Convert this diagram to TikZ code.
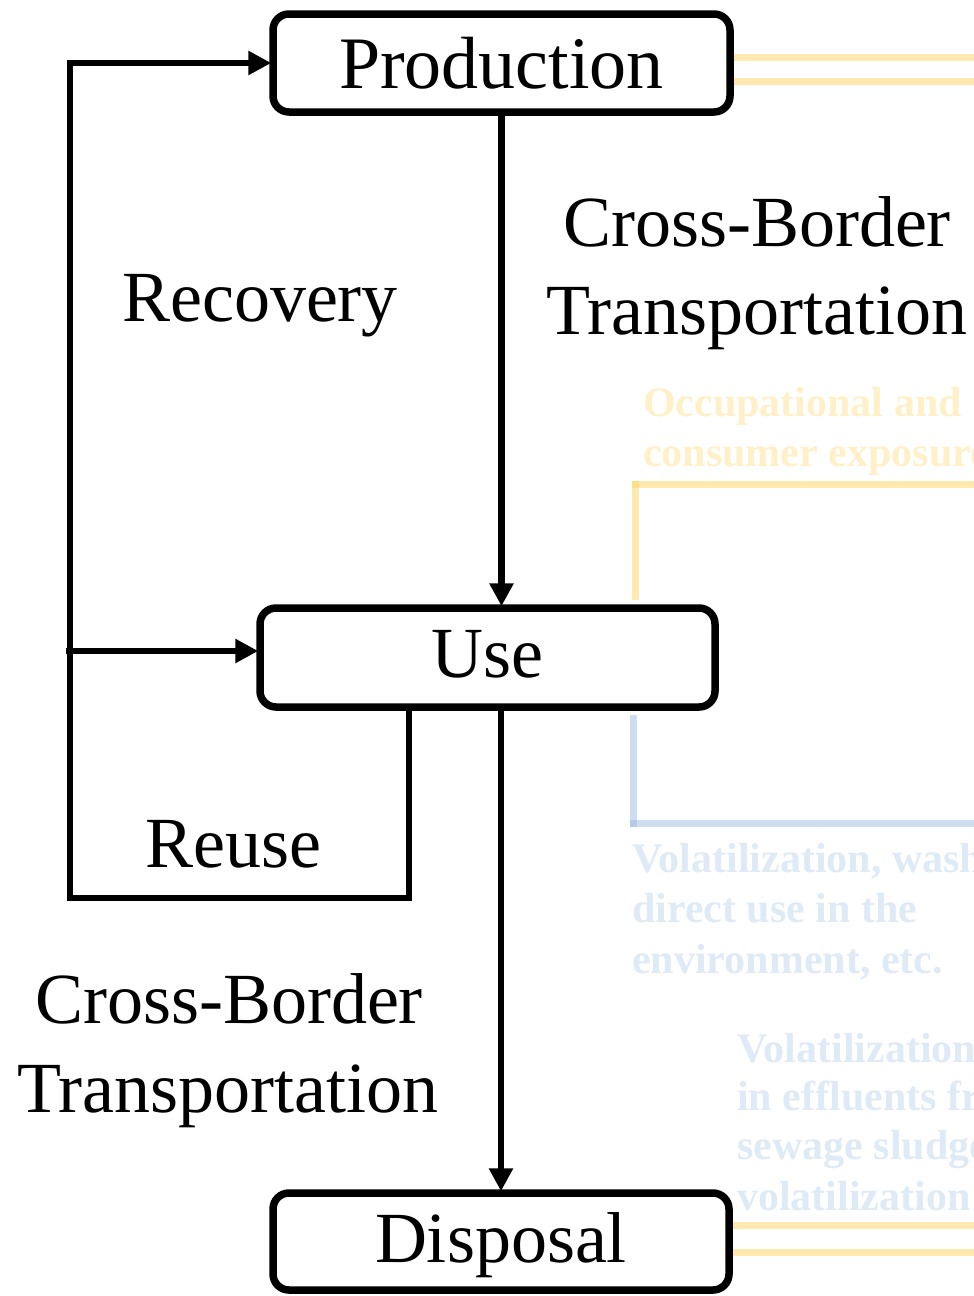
\documentclass[tikz,border=0pt]{standalone}
\usepackage{fontspec}
\setmainfont{Liberation Serif}
\usetikzlibrary{arrows.meta}
\definecolor{ylline}{HTML}{FFD35F}
\definecolor{blline}{HTML}{99BDE1}
\definecolor{yltext}{HTML}{FFF0C8}
\definecolor{bltext}{HTML}{DEEAF6}
\begin{document}
\begin{tikzpicture}[x=1pt,y=-1pt,
  box/.style={draw=black, line width=7.5pt, rounded corners=16pt, inner sep=0pt, fill=white},
  flow/.style={draw=black, line width=6.8pt, -{Triangle[length=23pt,width=23pt]}, shorten >=-2pt},
  big/.style={font=\fontsize{72}{86}\selectfont, inner sep=0pt, anchor=base},
  faint/.style={font=\bfseries\fontsize{42}{50}\selectfont, inner sep=0pt, anchor=base west},
  yl/.style={draw=ylline, draw opacity=0.5, line width=7pt},
  bl/.style={draw=blline, draw opacity=0.5, line width=7pt}]
\useasboundingbox (0,0) rectangle (974,1296);
\clip (0,0) rectangle (974,1296);

% faint texts
\node[faint, text=yltext] (occ1) at (643,416) {Occupational and};
\node[faint, text=yltext] (occ2) at (643,466) {consumer exposure};
\node[faint, text=bltext] (vol1) at (632,872) {Volatilization, washing};
\node[faint, text=bltext] (vol2) at (632,922) {direct use in the};
\node[faint, text=bltext] (vol3) at (632,973) {environment, etc.};
\node[faint, text=bltext] (eff1) at (737,1062) {Volatilization};
\node[faint, text=bltext] (eff2) at (737,1110) {in effluents from};
\node[faint, text=bltext] (eff3) at (737,1159) {sewage sludge};
\node[faint, text=bltext] (eff4) at (737,1210) {volatilization};

% boxes
\node[box, minimum width=457pt, minimum height=98pt, font=\fontsize{74}{86}\selectfont,
      text height=55pt, text depth=5pt] (prod) at (501.5,63) {Production};
\node[box, minimum width=455pt, minimum height=99pt, font=\fontsize{72}{86}\selectfont,
      text height=50pt, text depth=11pt] (use) at (487.5,657.5) {Use};
\node[box, minimum width=456pt, minimum height=97pt, font=\fontsize{72}{86}\selectfont,
      text height=50pt, text depth=9pt] (disp) at (501,1241.5) {Disposal};

% main flow
\draw[flow] (prod.south) -- (prod.south |- use.north);
\draw[flow] (disp.north |- use.south) -- (disp.north);

% reuse / recovery loop
\coordinate (reuseBR) at (409,898);
\coordinate (loopBL) at (70,898);
\coordinate (loopTL) at (70,63);
\coordinate (recL) at (66,651);
\draw[flow] (use.south -| reuseBR) -- (reuseBR) -- (loopBL) -- (loopTL) -- (prod.west);
\draw[flow] (recL) -- (recL -| use.west);

% labels
\node[big] (recov) at (260,321) {Recovery};
\node[big] (reuse) at (233,867) {Reuse};
\node[big] (cbT1) at (757,246) {Cross-Border};
\node[big] (cbT2) at (757,334) {Transportation};
\node[big] (cbB1) at (229,1023) {Cross-Border};
\node[big] (cbB2) at (228,1112) {Transportation};

% faint connectors
\coordinate (ytA) at (974,57);
\coordinate (ytB) at (974,81);
\draw[yl] (ytA -| prod.east) -- (ytA);
\draw[yl] (ytB -| prod.east) -- (ytB);
\coordinate (ymC) at (635,484);
\coordinate (ymR) at (974,484);
\draw[yl, shorten <=4pt] (ymC |- use.north) -- ([yshift=3.5pt]ymC);
\draw[yl] ([xshift=-3.5pt]ymC) -- (ymR);
\coordinate (bmC) at (633,823);
\coordinate (bmR) at (974,823);
\draw[bl, shorten <=4pt] (bmC |- use.south) -- ([yshift=-3.5pt]bmC);
\draw[bl] ([xshift=-3.5pt]bmC) -- (bmR);
\coordinate (ybA) at (974,1225);
\coordinate (ybB) at (974,1252);
\draw[yl] (ybA -| disp.east) -- (ybA);
\draw[yl] (ybB -| disp.east) -- (ybB);
\end{tikzpicture}
\end{document}
